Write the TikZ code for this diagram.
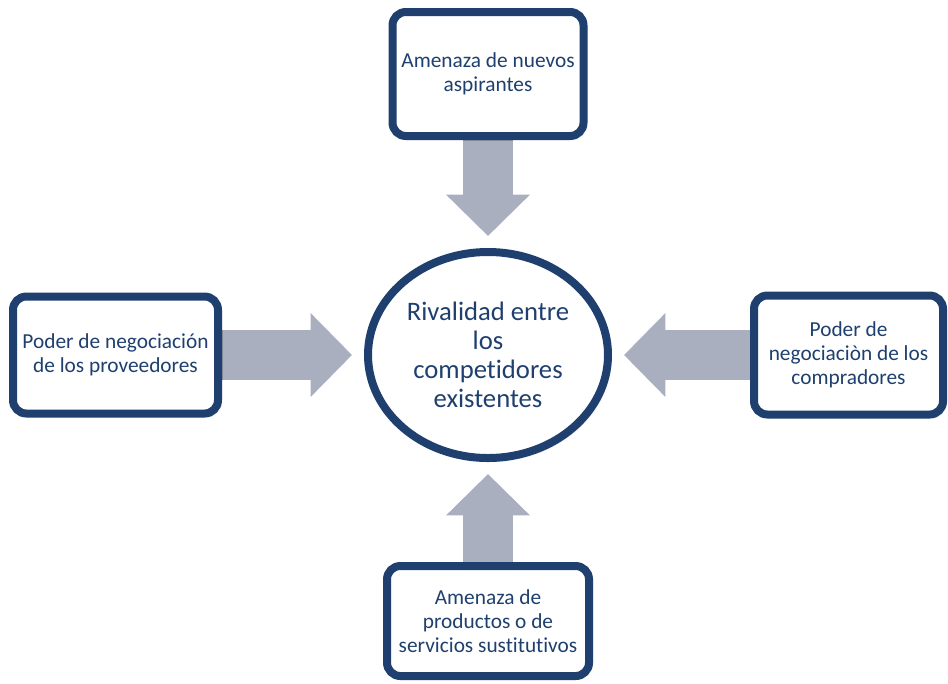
\documentclass[tikz,border=0pt]{standalone}
\usepackage{fontspec}
\setmainfont[Ligatures=NoCommon]{Carlito}
\usepackage{xcolor}
\usetikzlibrary{calc,shapes,arrows.meta,backgrounds,shadows.blur}
\definecolor{marino}{RGB}{31,64,110}
\definecolor{flecha}{RGB}{169,175,190}

\begin{document}
\begin{tikzpicture}[x=0.75pt,y=-0.75pt,
  caja/.style={draw=marino,line width=6pt,rounded corners=10pt,fill=white,
    text=marino,align=center,inner sep=2pt,
    font=\fontsize{16}{18}\selectfont,
    blur shadow={shadow blur steps=6,shadow xshift=1.5pt,shadow yshift=-1.5pt,shadow opacity=25}},
  centro/.style={ellipse,draw=marino,line width=6pt,fill=white,text=marino,
    align=center,inner sep=0pt,minimum width=180pt,minimum height=154.5pt,
    font=\fontsize{20}{21.75}\selectfont,
    blur shadow={shadow blur steps=6,shadow xshift=1.5pt,shadow yshift=-1.5pt,shadow opacity=25}},
  fuerza/.style={draw=flecha,line width=38pt,
    -{Triangle[length=31pt,width=61pt]},shorten >=9pt}]
\useasboundingbox (0,0) rectangle (948,683);
\node[centro] (rival) at (488,355) {Rivalidad entre\\los\\competidores\\existentes};
\node[caja,minimum width=143.25pt,minimum height=93pt] (nuevos) at (488,74)
  {Amenaza de nuevos\\aspirantes};
\node[caja,minimum width=153.75pt,minimum height=87.75pt] (prov) at (115.5,355)
  {Poder de negociación\\de los proveedores};
\node[caja,minimum width=141.75pt,minimum height=89.25pt] (compr) at (848.5,355)
  {Poder de\\negociaciòn de los\\compradores};
\node[caja,minimum width=151.5pt,minimum height=82.5pt] (sust) at (488,621)
  {Amenaza de\\productos o de\\servicios sustitutivos};
\begin{scope}[on background layer]
\draw[fuerza] (nuevos) -- (rival);
\draw[fuerza] (prov) -- (rival);
\draw[fuerza] (compr) -- (rival);
\draw[fuerza] (sust) -- (rival);
\end{scope}
\end{tikzpicture}
\end{document}
